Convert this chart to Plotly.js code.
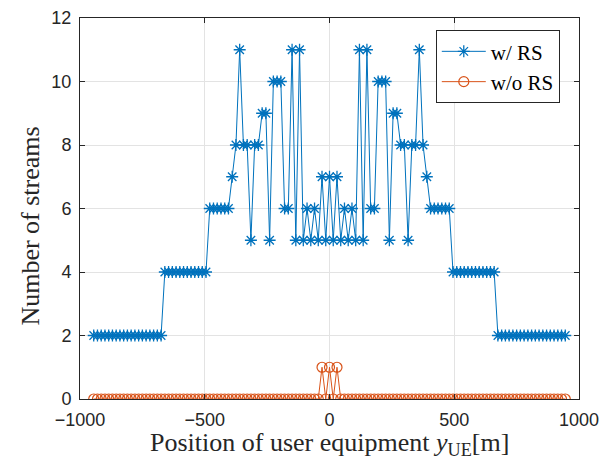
<!DOCTYPE html>
<html>
<head>
<meta charset="utf-8">
<script src="https://cdn.plot.ly/plotly-3.0.1.min.js"></script>
<style>html,body{margin:0;padding:0;background:#fff;}#chart{width:609px;height:462px;}</style>
</head>
<body>
<div id="chart"></div>
<script>
const positions = [-945,-930,-915,-900,-885,-870,-855,-840,-825,-810,-795,-780,-765,-750,-735,-720,-705,-690,-675,
-660,-645,-630,-615,-600,-585,-570,-555,-540,-525,-510,-495,
-480,-465,-450,-435,-420,-405,-390,-375,-360,-345,-330,-315,-300,-285,-270,-255,-240,-225,-210,-195,-180,-165,-150,-135,-120,-105,-90,-75,-60,-45,-30,-15,
0,
15,30,45,60,75,90,105,120,135,150,165,180,195,210,225,240,255,270,285,300,315,330,345,360,375,390,405,420,435,450,465,480,
495,510,525,540,555,570,585,600,615,630,645,660,
675,690,705,720,735,750,765,780,795,810,825,840,855,870,885,900,915,930,945];

const withRS = [2,2,2,2,2,2,2,2,2,2,2,2,2,2,2,2,2,2,2,
4,4,4,4,4,4,4,4,4,4,4,4,
6,6,6,6,6,6,
7,8,11,8,8,5,8,8,9,9,5,10,10,10,6,6,11,5,11,5,6,5,6,5,7,5,
7,
5,7,5,6,5,6,5,11,5,11,6,6,10,10,10,5,9,9,8,8,5,8,8,11,8,7,
6,6,6,6,6,6,
4,4,4,4,4,4,4,4,4,4,4,4,
2,2,2,2,2,2,2,2,2,2,2,2,2,2,2,2,2,2,2];

const withoutRS = [0,0,0,0,0,0,0,0,0,0,0,0,0,0,0,0,0,0,0,
0,0,0,0,0,0,0,0,0,0,0,0,
0,0,0,0,0,0,
0,0,0,0,0,0,0,0,0,0,0,0,0,0,0,0,0,0,0,0,0,0,0,0,1,0,
1,
0,1,0,0,0,0,0,0,0,0,0,0,0,0,0,0,0,0,0,0,0,0,0,0,0,0,
0,0,0,0,0,0,
0,0,0,0,0,0,0,0,0,0,0,0,
0,0,0,0,0,0,0,0,0,0,0,0,0,0,0,0,0,0,0];

const seriesNames = ['w/ RS', 'w/o RS'];
const xTicks = [-1000, -500, 0, 500, 1000];
const xTickText = ['\u22121000', '\u2212500', '0', '500', '1000'];
const yTicks = [0, 2, 4, 6, 8, 10, 12];
const xTitle = 'Position of user equipment <i>y</i><sub>UE</sub>[m]';
const yTitle = 'Number of streams';

const traces = [
  {x: positions, y: withRS, name: seriesNames[0], type: 'scatter', mode: 'lines+markers',
   line: {color: '#0072BD', width: 1},
   marker: {symbol: 'asterisk-open', size: 10, color: '#0072BD', line: {color: '#0072BD', width: 1.3}}},
  {x: positions, y: withoutRS, name: seriesNames[1], type: 'scatter', mode: 'lines+markers',
   line: {color: '#D95319', width: 1},
   marker: {symbol: 'circle-open', size: 10, color: '#D95319', line: {color: '#D95319', width: 1.2}}}
];

const serif = 'Liberation Serif, Times New Roman, serif';
const axisCommon = {
  showline: true, linecolor: '#262626', linewidth: 1, mirror: 'ticks',
  ticks: 'inside', ticklen: 5, tickcolor: '#262626', tickwidth: 1,
  showgrid: true, gridcolor: '#e3e3e3', gridwidth: 1, zeroline: false,
  tickfont: {family: 'Liberation Sans, Arial, sans-serif', size: 18, color: '#262626'}
};

const layout = {
  width: 609, height: 462,
  margin: {l: 80, r: 30, t: 18, b: 63},
  paper_bgcolor: '#ffffff', plot_bgcolor: '#ffffff',
  showlegend: true,
  xaxis: Object.assign({}, axisCommon, {
    range: [-1000, 1000], tickmode: 'array', tickvals: xTicks, ticktext: xTickText,
    ticklabelstandoff: 4
  }),
  yaxis: Object.assign({}, axisCommon, {
    range: [0, 12], tickmode: 'array', tickvals: yTicks,
    ticklabelstandoff: 4
  }),
  annotations: [
    {text: xTitle, xref: 'paper', yref: 'paper', x: 0.5, y: 0, yshift: -45,
     xanchor: 'center', yanchor: 'middle', showarrow: false, borderpad: 0,
     font: {family: serif, size: 26, color: '#262626'}},
    {text: yTitle, xref: 'paper', yref: 'paper', x: -0.1, y: 0.5, yshift: -18,
     xanchor: 'center', yanchor: 'middle', textangle: -90, showarrow: false,
     font: {family: serif, size: 26, color: '#262626'}}
  ],
  legend: {x: 0.713, y: 0.968, xanchor: 'left', yanchor: 'top',
           bgcolor: '#ffffff', bordercolor: '#262626', borderwidth: 1,
           itemwidth: 44, tracegroupgap: 0,
           font: {family: serif, size: 21, color: '#000000'}}
};

Plotly.newPlot('chart', traces, layout, {displayModeBar: false, staticPlot: true});
</script>
</body>
</html>
